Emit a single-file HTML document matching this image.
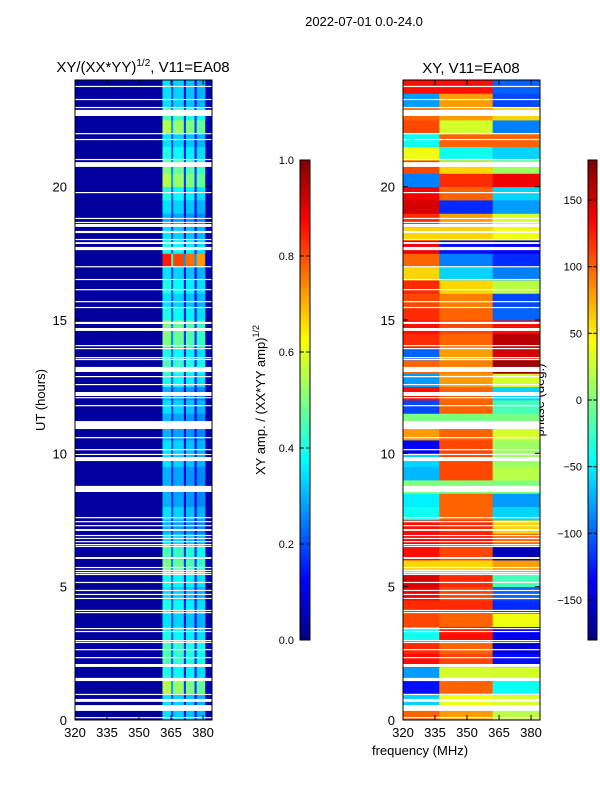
<!DOCTYPE html>
<html><head><meta charset="utf-8"><style>
body{margin:0;background:#fff;}
svg{display:block;font-family:"Liberation Sans",sans-serif;}
</style></head><body>
<svg id="fig" width="600" height="800" xmlns="http://www.w3.org/2000/svg">
<text x="364" y="26" font-size="13" text-anchor="middle">2022-07-01 0.0-24.0</text>
<text x="143" y="72" font-size="15" text-anchor="middle">XY/(XX*YY)<tspan dy="-6" font-size="10">1/2</tspan><tspan dy="6">, V11=EA08</tspan></text>
<text x="471" y="73" font-size="15" text-anchor="middle">XY, V11=EA08</text>
<text transform="translate(45,400) rotate(-90)" font-size="13" text-anchor="middle">UT (hours)</text>
<text x="420" y="755" font-size="13" text-anchor="middle">frequency (MHz)</text>
<text transform="translate(265,400) rotate(-90)" font-size="13" text-anchor="middle">XY amp. / (XX*YY amp)<tspan dy="-6" font-size="9">1/2</tspan></text>
<text transform="translate(544,400) rotate(-90)" font-size="13" text-anchor="middle">phase (deg.)</text>
<g id="left"></g>
<g id="right"></g>
<g id="axes"></g>
</svg>
<script>
const hours = [0,5,10,15,20];
const freqTicks = [320,335,350,365,380];
const ampTicks = [0.0,0.2,0.4,0.6,0.8,1.0];
const phaseTicks = [-150,-100,-50,0,50,100,150];
// band brightness per half-hour row (0h..24h)
const ampRow = [0.35,0.35,0.55,0.4,0.45,0.45,0.4,0.35,0.4,0.35,0.4,0.5,0.45,0.35,0.3,0.35,0.3,0.3,0.3,0.35,0.35,0.3,0.3,0.35,0.3,0.4,0.45,0.4,0.5,0.5,0.4,0.35,0.4,0.35,0.85,0.4,0.35,0.3,0.35,0.4,0.55,0.5,0.4,0.35,0.55,0.45,0.35,0.35];
// channel gain, 1 MHz channels 320..383
const chanGain = [0,0,0,0,0,0,0,0,0,0,0,0,0,0,0,0,0,0,0,0,0,0,0,0,0,0,0,0,0,0,0,0,0,0,0,0,0,0,0,0,0,1,1,1,1,0.5,0.95,0.95,0.95,0.95,0.95,0.3,0.9,0.9,0.9,0.9,0.3,0.85,0.85,0.85,0.85,0.05,0.05,0.05];
const ampBase = 0.03;
// phase per half-hour row for low (320-337), mid (337-362), high (362-384) bands
const phaseLow = [100,-60,-130,-80,130,120,-40,110,120,140,150,60,130,140,130,-40,-50,0,-70,-60,-140,80,0,-110,130,-80,100,-100,120,130,120,110,120,60,100,140,60,120,150,140,-90,110,40,-40,110,100,-80,130];
const phaseMid = [80,40,100,30,110,100,130,100,120,110,120,60,110,130,120,100,100,0,110,110,110,100,0,100,100,80,90,80,100,110,100,90,60,-60,-90,-130,60,80,-120,100,120,60,-40,100,30,80,80,130];
const phaseHigh = [20,30,-40,30,-130,-150,-140,40,-120,-100,-20,80,-160,100,60,-60,-80,0,20,10,10,30,0,-20,-60,30,170,150,160,130,-100,-110,20,-90,-120,-140,40,30,-80,-60,140,10,-60,100,-90,60,-110,-100];
// flagged intervals [start h, end h]
const flags = [[23.74,23.78],[23.25,23.29],[22.95,22.99],[22.65,22.88],[21.97,22.01],[21.75,21.79],[21.0,21.04],[20.74,20.92],[19.76,19.8],[18.79,18.83],[18.64,18.68],[18.49,18.6],[18.26,18.34],[18.0,18.04],[17.85,17.92],[17.62,17.74],[16.99,17.02],[16.5,16.54],[16.13,16.16],[15.68,15.71],[15.45,15.49],[14.85,14.93],[14.59,14.7],[14.03,14.06],[13.91,13.95],[13.58,13.61],[13.5,13.54],[13.05,13.24],[12.86,12.9],[12.56,12.6],[12.15,12.3],[12.08,12.11],[11.78,11.81],[10.91,11.21],[10.58,10.61],[10.13,10.16],[9.94,9.98],[9.71,9.86],[8.55,8.78],[7.58,7.61],[7.43,7.46],[7.28,7.31],[7.09,7.16],[6.9,6.94],[6.79,6.83],[6.68,6.71],[6.56,6.6],[6.49,6.53],[6.04,6.11],[5.7,5.74],[5.59,5.63],[5.51,5.55],[5.44,5.48],[5.14,5.18],[4.84,4.88],[4.69,4.73],[4.54,4.58],[4.09,4.13],[4.01,4.05],[3.41,3.45],[3.3,3.34],[2.96,3.0],[2.89,2.93],[2.63,2.66],[2.33,2.36],[1.99,2.1],[1.46,1.58],[0.94,0.98],[0.68,0.79],[0.34,0.56],[0.08,0.11]];

const NS='http://www.w3.org/2000/svg';
const Y0=720,Y1=80,FMIN=320,FMAX=384.2;
const yOf=h=>Y0-(h/24)*(Y0-Y1);
function xOf(f,p){return p.x0+(f-FMIN)/(FMAX-FMIN)*(p.x1-p.x0);}
const PL={x0:75,x1:212}, PR={x0:403,x1:540};
function jet(v){v=Math.max(0,Math.min(1,v));
 const c=t=>Math.round(255*Math.max(0,Math.min(1,1.5-Math.abs(4*v-t))));
 return `rgb(${c(3)},${c(2)},${c(1)})`;}
function mk(tag,attrs,parent){const e=document.createElementNS(NS,tag);for(const k in attrs)e.setAttribute(k,attrs[k]);parent.appendChild(e);return e;}
const L=document.getElementById('left'),R=document.getElementById('right'),A=document.getElementById('axes');
function phaseAt(r,f){
 if(f<337)return phaseLow[r];
 if(f<362)return phaseMid[r];
 return phaseHigh[r];}
for(let r=0;r<ampRow.length;r++){
 const yt=yOf((r+1)/2), yb=yOf(r/2);
 for(let c=0;c<chanGain.length;c++){
  const f=FMIN+c;
  const xa=xOf(f,PL), xb=Math.min(xOf(f+1,PL),PL.x1);
  const v=ampBase+chanGain[c]*(ampRow[r]-ampBase);
  const e=mk('rect',{x:xa,y:yt,width:xb-xa+0.4,height:yb-yt+0.4,fill:jet(v)},L);
  
  
  const xa2=xOf(f,PR), xb2=Math.min(xOf(f+1,PR),PR.x1);
  const p=phaseAt(r,f);
  const e2=mk('rect',{x:xa2,y:yt,width:xb2-xa2+0.4,height:yb-yt+0.4,fill:jet((p+180)/360)},R);
  
  
 }}
for(const [a,b] of flags){
 for(const [g,p] of [[L,PL],[R,PR]]){
  const e=mk('rect',{x:p.x0,y:yOf(b),width:p.x1-p.x0,height:Math.max(1.2,yOf(a)-yOf(b)),fill:'#fff'},g);
  
  
 }}
for(const p of [PL,PR]){
 const fr=mk('rect',{x:p.x0,y:Y1,width:p.x1-p.x0,height:Y0-Y1,fill:'none',stroke:'#000','stroke-width':1},A);
 
 
 for(const h of hours){
  const y=yOf(h);
  mk('line',{x1:p.x0,x2:p.x0+5,y1:y,y2:y,stroke:'#000'},A);
  mk('line',{x1:p.x1,x2:p.x1-5,y1:y,y2:y,stroke:'#000'},A);
  const t=mk('text',{x:p.x0-8,y:y+5,'font-size':13,'text-anchor':'end'},A);t.textContent=h;
  
  
 }
 for(const f of freqTicks){
  const x=xOf(f,p);
  mk('line',{x1:x,x2:x,y1:Y0,y2:Y0-5,stroke:'#000'},A);
  mk('line',{x1:x,x2:x,y1:Y1,y2:Y1+5,stroke:'#000'},A);
  const t=mk('text',{x:x,y:Y0+17,'font-size':13,'text-anchor':'middle'},A);t.textContent=f;
  
  
 }}
function colorbar(x,w,vmin,vmax,ticks,fmt,name){
 const top=160,bot=640,n=120;
 for(let i=0;i<n;i++){
  const y=bot-(i+1)*(bot-top)/n;
  const e=mk('rect',{x:x,y:y,width:w,height:(bot-top)/n+0.5,fill:jet((i+0.5)/n)},A);
  
  
 }
 const fr=mk('rect',{x:x,y:top,width:w,height:bot-top,fill:'none',stroke:'#000'},A);
 
 
 for(const v of ticks){
  const y=bot-(v-vmin)/(vmax-vmin)*(bot-top);
  mk('line',{x1:x,x2:x+4,y1:y,y2:y,stroke:'#000'},A);
  mk('line',{x1:x+w,x2:x+w-4,y1:y,y2:y,stroke:'#000'},A);
  const t=mk('text',{x:x-6,y:y+4,'font-size':11,'text-anchor':'end'},A);t.textContent=fmt(v);
  
  
 }}
colorbar(300,10,0,1,ampTicks,v=>v.toFixed(1),'amp-colorbar');
colorbar(588,9,-180,180,phaseTicks,v=>v<0?'\u2212'+(-v):String(v),'phase-colorbar');
</script>
</body></html>
